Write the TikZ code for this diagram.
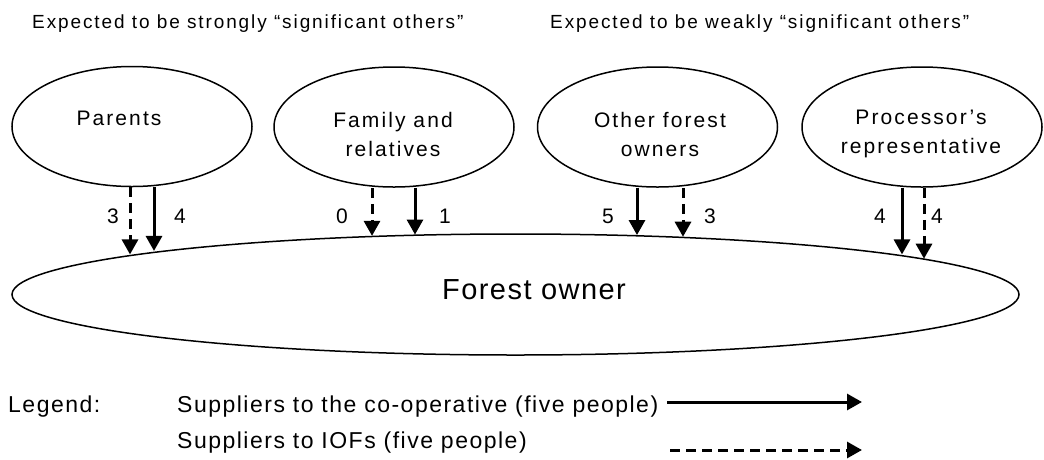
\documentclass[tikz,border=0pt]{standalone}
\usepackage{fontspec}
\setmainfont{Liberation Sans}
\newfontfamily\lsfont[LetterSpace=10]{Liberation Sans}
\newfontfamily\lsfontb[LetterSpace=5]{Liberation Sans}
\newfontfamily\lsfontc[LetterSpace=6.5]{Liberation Sans}
\usetikzlibrary{shapes.geometric,arrows.meta}
\begin{document}
\begin{tikzpicture}[x=1pt,y=-1pt,
  oval/.style={draw,ellipse,line width=1.5pt,inner sep=0pt,minimum width=240pt,minimum height=120pt},
  otext/.style={align=center,inner sep=0pt,font=\lsfont\fontsize{21}{29}\selectfont},
  coop/.style={line width=3pt,-{Triangle[length=15pt,width=16pt]}},
  iof/.style={coop,dash pattern=on 10pt off 6pt},
  num/.style={inner sep=0pt,font=\fontsize{21}{25}\selectfont},
  hdr/.style={anchor=west,inner sep=0pt,font=\lsfont\fontsize{19}{23}\selectfont},
  leg/.style={anchor=west,inner sep=0pt,font=\lsfontc\fontsize{23}{27}\selectfont}]
\useasboundingbox (0,0) rectangle (1044,459);
\node[hdr] (h1) at (32,24) {Expected to be strongly “significant others”};
\node[hdr] (h2) at (550,24) {Expected to be weakly “significant others”};
\node[oval] (parents) at (132,126.5) {};
\node[oval] (family) at (394,127) {};
\node[oval] (other) at (657.5,127) {};
\node[oval] (proc) at (922,127) {};
\node[otext] (parentsT) at (119,118) {Parents};
\node[otext] (familyT) at (393,134) {Family and\\relatives};
\node[otext] (otherT) at (660,134) {Other forest\\owners};
\node[otext] (procT) at (921,134) {Processor’s\\representative};
\node[draw,ellipse,line width=1.5pt,inner sep=0pt,minimum width=1007pt,minimum height=121pt] (forest) at (515.5,294.5) {};
\node[inner sep=0pt,font=\lsfontb\fontsize{29}{34}\selectfont] (forestT) at (534,290) {Forest owner};
\coordinate (a1) at ([xshift=-2pt]parents.south);
\coordinate (a2) at ([xshift=22pt]parents.south);
\coordinate (b1) at ([xshift=-22pt]family.south);
\coordinate (b2) at ([xshift=21pt]family.south);
\coordinate (c1) at ([xshift=-20.5pt]other.south);
\coordinate (c2) at ([xshift=25.5pt]other.south);
\coordinate (d1) at ([xshift=-20pt]proc.south);
\coordinate (d2) at ([xshift=2pt]proc.south);
\draw[iof] (a1) -- (a1 |- forest.174);
\draw[coop] (a2) -- (a2 |- forest.173);
\draw[iof] (b1) -- (b1 |- forest.158);
\draw[coop] (b2) -- (b2 |- forest.150);
\draw[coop] (c1) -- (c1 |- forest.26);
\draw[iof] (c2) -- (c2 |- forest.19);
\draw[coop] (d1) -- (d1 |- forest.6);
\draw[iof] (d2) -- (d2 |- forest.5);
\node[num] (n1) at (113,216) {3};
\node[num] (n2) at (180,216) {4};
\node[num] (n3) at (342,216) {0};
\node[num] (n4) at (445,216) {1};
\node[num] (n5) at (608,216) {5};
\node[num] (n6) at (710,216) {3};
\node[num] (n7) at (880,216) {4};
\node[num] (n8) at (937,216) {4};
\node[leg] (lg) at (8,407) {Legend:};
\node[leg] (l1) at (177,407) {Suppliers to the co-operative (five people)};
\node[leg] (l2) at (177,443) {Suppliers to IOFs (five people)};
\coordinate (s1) at (667,402);
\coordinate (e1) at (862,402);
\coordinate (s2) at (670,450);
\coordinate (e2) at (862,450);
\draw[coop] (s1) -- (e1);
\draw[iof] (s2) -- (e2);
\end{tikzpicture}
\end{document}
